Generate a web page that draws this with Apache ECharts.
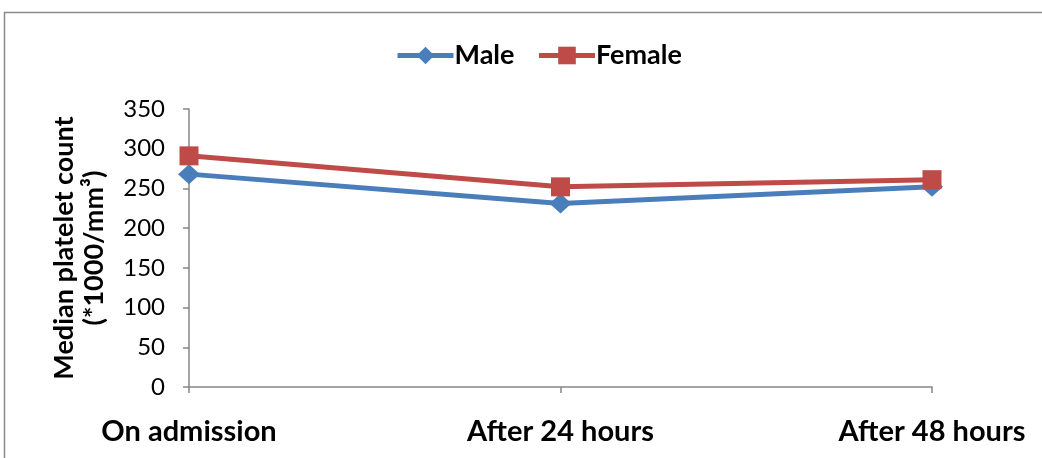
<!DOCTYPE html>
<html>
<head>
<meta charset="utf-8">
<script src="https://cdn.jsdelivr.net/npm/echarts@6/dist/echarts.min.js"></script>
<style>html,body{margin:0;padding:0;background:#fff;}#c{width:1042px;height:458px;}</style>
</head>
<body>
<div id="c"></div>
<script>
const categories = ['On admission', 'After 24 hours', 'After 48 hours'];
const maleValues = [268, 231, 252];
const femaleValues = [291, 252, 261];
const yTicks = [0, 50, 100, 150, 200, 250, 300, 350];

const chart = echarts.init(document.getElementById('c'));
chart.setOption({
  animation: false,
  backgroundColor: '#fff',
  graphic: [{
    type: 'rect',
    shape: { x: 4.5, y: 12.5, width: 1050, height: 460 },
    style: { fill: 'none', stroke: '#8a8a8a', lineWidth: 1.5 },
    silent: true
  }],
  legend: {
    left: 390,
    top: 37,
    itemWidth: 56,
    itemHeight: 22,
    itemGap: 22,
    lineStyle: { width: 5 },
    textStyle: { fontFamily: 'Lato', fontWeight: 'bold', fontSize: 27, color: '#000', padding: [0, 0, 0, -4] },
    data: ['Male', 'Female']
  },
  grid: { left: 189, right: 110, top: 109, bottom: 71, containLabel: false },
  xAxis: {
    type: 'category',
    data: categories,
    boundaryGap: false,
    axisLine: { lineStyle: { color: '#868686', width: 1.5 } },
    axisTick: { alignWithLabel: true, length: 6, lineStyle: { color: '#868686', width: 1.5 } },
    axisLabel: { fontFamily: 'Lato', fontWeight: 'bold', fontSize: 29, color: '#000', margin: 30, interval: 0 }
  },
  yAxis: {
    type: 'value',
    min: yTicks[0],
    max: yTicks[yTicks.length - 1],
    interval: 50,
    name: 'Median platelet count\n(*1000/mm³)',
    nameLocation: 'middle',
    nameGap: 80,
    nameTextStyle: { fontFamily: 'Lato', fontWeight: 'bold', fontSize: 27, color: '#000', lineHeight: 30 },
    axisLine: { show: true, lineStyle: { color: '#868686', width: 1.5 } },
    axisTick: { show: true, length: 6, lineStyle: { color: '#868686', width: 1.5 } },
    splitLine: { show: false },
    axisLabel: { fontFamily: 'Lato', fontSize: 24, color: '#000', margin: 24 }
  },
  series: [
    {
      name: 'Male',
      type: 'line',
      data: maleValues,
      symbol: 'diamond',
      symbolSize: [22, 20],
      lineStyle: { color: '#4a7ebb', width: 5 },
      itemStyle: { color: '#4a7ebb' }
    },
    {
      name: 'Female',
      type: 'line',
      data: femaleValues,
      symbol: 'rect',
      symbolSize: [19, 19],
      lineStyle: { color: '#be4b48', width: 5 },
      itemStyle: { color: '#be4b48' }
    }
  ]
});
</script>
</body>
</html>
